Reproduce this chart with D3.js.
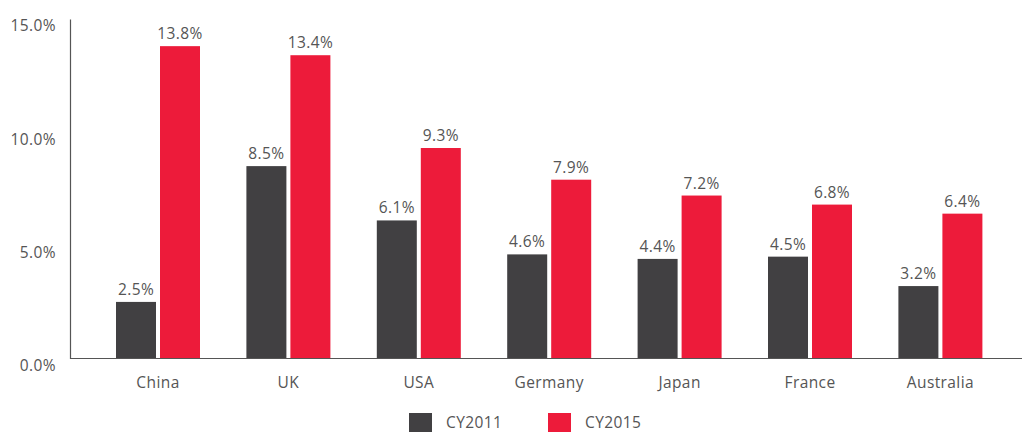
<!DOCTYPE html>
<html>
<head>
<meta charset="utf-8">
<script src="https://cdn.jsdelivr.net/npm/d3@7"></script>
<style>
  body { margin: 0; background: #fff; }
  text { font-family: "Open Sans", sans-serif; fill: #555; letter-spacing: 0.4px; }
</style>
</head>
<body>
<div id="chart"></div>
<script>
// data
const countries = ["China", "UK", "USA", "Germany", "Japan", "France", "Australia"];
const seriesNames = ["CY2011", "CY2015"];
const cy2011 = [2.5, 8.5, 6.1, 4.6, 4.4, 4.5, 3.2];
const cy2015 = [13.8, 13.4, 9.3, 7.9, 7.2, 6.8, 6.4];
const yTicks = [0, 5, 10, 15];
const colours = ["#414042", "#ED1B3A"];

const W = 1022, H = 432;
const m = { t: 19, l: 70, b: 358.5 };
const fs = 15.5;

const svg = d3.select("#chart").append("svg")
    .attr("width", W).attr("height", H);

const y = d3.scaleLinear().domain([0, 15]).range([m.b, m.t]);
const x0 = d3.scaleBand().domain(countries).range([92.8, 1005.6]);
const x1 = d3.scaleBand().domain(seriesNames).range([-42, 42]).paddingInner(0.0909);

const rows = countries.map((c, i) => ({ c, vals: [cy2011[i], cy2015[i]] }));

// y axis
const yAxis = svg.append("g")
    .attr("transform", "translate(" + m.l + ",0)")
    .call(d3.axisLeft(y).tickValues(yTicks).tickSize(0).tickPadding(14)
        .tickFormat(d => d.toFixed(1) + "%"));
yAxis.select(".domain").attr("stroke", "#555").attr("stroke-width", 1.2);
yAxis.selectAll("text").attr("font-size", fs).attr("dy", "0.32em")
    .attr("transform", "translate(0,7)").style("fill", "#555");

// bars
const groups = svg.append("g").selectAll("g")
    .data(rows).enter().append("g")
    .attr("transform", d => "translate(" + (x0(d.c) + x0.bandwidth() / 2) + ",0)");

groups.selectAll("rect")
    .data(d => d.vals.map((v, j) => ({ s: seriesNames[j], v, j })))
    .enter().append("rect")
    .attr("x", d => x1(d.s))
    .attr("y", d => y(d.v))
    .attr("width", x1.bandwidth())
    .attr("height", d => m.b - y(d.v))
    .attr("fill", d => colours[d.j]);

groups.selectAll("text.val")
    .data(d => d.vals.map((v, j) => ({ s: seriesNames[j], v, j })))
    .enter().append("text")
    .attr("class", "val")
    .attr("x", d => x1(d.s) + x1.bandwidth() / 2)
    .attr("y", d => y(d.v) - 7)
    .attr("text-anchor", "middle")
    .attr("font-size", fs)
    .text(d => d.v.toFixed(1) + "%");

// x axis
const xAxis = svg.append("g")
    .attr("transform", "translate(0," + m.b + ")")
    .call(d3.axisBottom(x0).tickSize(0).tickPadding(18));
xAxis.select(".domain").attr("d", "M" + m.l + ",0H" + W)
    .attr("stroke", "#555").attr("stroke-width", 1.2);
xAxis.selectAll("text").attr("font-size", fs).style("fill", "#555");

// legend
const legend = svg.append("g").selectAll("g")
    .data(seriesNames).enter().append("g")
    .attr("transform", (d, i) => "translate(" + (409 + i * 139) + ",413)");
legend.append("rect").attr("width", 23).attr("height", 20)
    .attr("fill", (d, i) => colours[i]);
legend.append("text").attr("x", 37).attr("y", 10).attr("dy", "0.35em")
    .attr("font-size", fs).text(d => d);
</script>
</body>
</html>
